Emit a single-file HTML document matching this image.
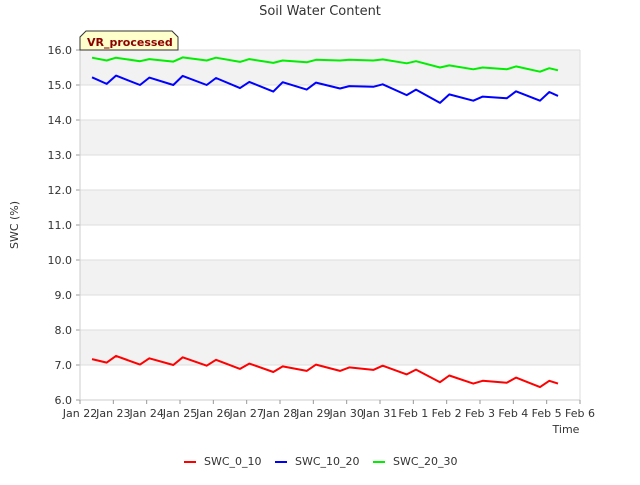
<!DOCTYPE html>
<html><head><meta charset="utf-8"><style>
body{margin:0;background:#fff;font-family:"Liberation Sans","DejaVu Sans",sans-serif}
svg text{font-family:"DejaVu Sans","Liberation Sans",sans-serif}
</style></head><body>
<svg id="c" width="640" height="480" xmlns="http://www.w3.org/2000/svg">
<rect width="640" height="480" fill="#fff"/>
<text x="320" y="15" text-anchor="middle" font-size="13" fill="#333">Soil Water Content</text>
<g id="plot"></g>
<text transform="translate(18,225) rotate(-90)" text-anchor="middle" font-size="11" fill="#333">SWC (%)</text>
<text x="566" y="433" text-anchor="middle" font-size="11" fill="#333">Time</text>
<g>
<path d="M80,50 L80,37 L86,31 L172,31 L178,37 L178,50 Z" fill="#ffffcc" stroke="#333" stroke-width="1"/>
<text x="87" y="46" font-size="11" font-weight="bold" fill="#8b0000">VR_processed</text>
</g>
<g id="legend"></g>
</svg>
<script>
const yTicks=[6,7,8,9,10,11,12,13,14,15,16];
const xTickLabels=["Jan 22","Jan 23","Jan 24","Jan 25","Jan 26","Jan 27","Jan 28","Jan 29","Jan 30","Jan 31","Feb 1","Feb 2","Feb 3","Feb 4","Feb 5","Feb 6"];
const seriesNames=["SWC_0_10","SWC_10_20","SWC_20_30"];
const times=[0.36,0.8,1.08,1.8,2.08,2.8,3.08,3.8,4.08,4.8,5.08,5.8,6.08,6.8,7.08,7.8,8.08,8.8,9.08,9.8,10.08,10.8,11.08,11.8,12.08,12.8,13.08,13.8,14.08,14.34];
const swc0_10=[7.17,7.07,7.26,7.01,7.19,7.0,7.22,6.98,7.15,6.89,7.04,6.8,6.96,6.83,7.01,6.83,6.93,6.86,6.98,6.73,6.87,6.51,6.70,6.47,6.55,6.49,6.64,6.37,6.55,6.47];
const swc10_20=[15.22,15.03,15.27,15.0,15.21,15.0,15.26,15.0,15.2,14.91,15.09,14.81,15.08,14.87,15.07,14.90,14.97,14.95,15.02,14.71,14.87,14.49,14.73,14.55,14.67,14.62,14.82,14.55,14.8,14.69];
const swc20_30=[15.78,15.70,15.78,15.68,15.74,15.67,15.79,15.70,15.78,15.66,15.74,15.63,15.70,15.65,15.72,15.70,15.72,15.70,15.73,15.62,15.68,15.50,15.56,15.45,15.50,15.45,15.53,15.38,15.48,15.42];
const colors=["#ff0000","#0000ff","#00ee00"];
const NS="http://www.w3.org/2000/svg";
const X0=80,X1=580,Y0=400,Y1=50;
const xs=d=>X0+(X1-X0)*d/15;
const ys=v=>Y0-(Y0-Y1)*(v-6)/10;
const plot=document.getElementById('plot');
function mk(t,a,p){const e=document.createElementNS(NS,t);for(const k in a)e.setAttribute(k,a[k]);(p||plot).appendChild(e);return e;}
for(let i=0;i<yTicks.length-1;i++){
  const b=mk('rect',{x:X0,y:ys(yTicks[i+1]),width:X1-X0,height:ys(yTicks[i])-ys(yTicks[i+1]),fill:i%2===1?'#f2f2f2':'#fff'});
  
  
}
yTicks.forEach(v=>{
  const l=mk('line',{x1:X0,x2:X1,y1:ys(v),y2:ys(v),stroke:'#ddd'});
  
  
  const tk=mk('line',{x1:X0-4,x2:X0,y1:ys(v),y2:ys(v),stroke:'#999'});
  
  
  const t=mk('text',{x:X0-8,y:ys(v)+4,'text-anchor':'end','font-size':11,fill:'#333'});
  t.textContent=v.toFixed(1);
  
  
});
mk('line',{x1:X1,x2:X1,y1:Y1,y2:Y0,stroke:'#ddd'});
mk('line',{x1:X0,x2:X0,y1:Y1,y2:Y0,stroke:'#ccc'});
mk('line',{x1:X0,x2:X1,y1:Y0,y2:Y0,stroke:'#ccc'});
xTickLabels.forEach((s,i)=>{
  const tk=mk('line',{x1:xs(i),x2:xs(i),y1:Y0,y2:Y0+4,stroke:'#999'});
  
  
  const t=mk('text',{x:xs(i),y:Y0+17,'text-anchor':'middle','font-size':11,fill:'#333'});
  t.textContent=s;
  
  
});
[swc0_10,swc10_20,swc20_30].forEach((vals,si)=>{
  const d=vals.map((v,i)=>(i?'L':'M')+xs(times[i]).toFixed(1)+','+ys(v).toFixed(1)).join(' ');
  const p=mk('path',{d:d,fill:'none',stroke:colors[si],'stroke-width':2,'stroke-linejoin':'round'});
  
  
});
const lg=document.getElementById('legend');
const lx=[184,275,373];
seriesNames.forEach((n,i)=>{
  const g=mk('g',{},lg);
  
  
  mk('line',{x1:lx[i],x2:lx[i]+12,y1:462,y2:462,stroke:colors[i],'stroke-width':2},g);
  const t=mk('text',{x:lx[i]+20,y:465,'font-size':11,fill:'#333'},g);
  t.textContent=n;
});
</script>
</body></html>
